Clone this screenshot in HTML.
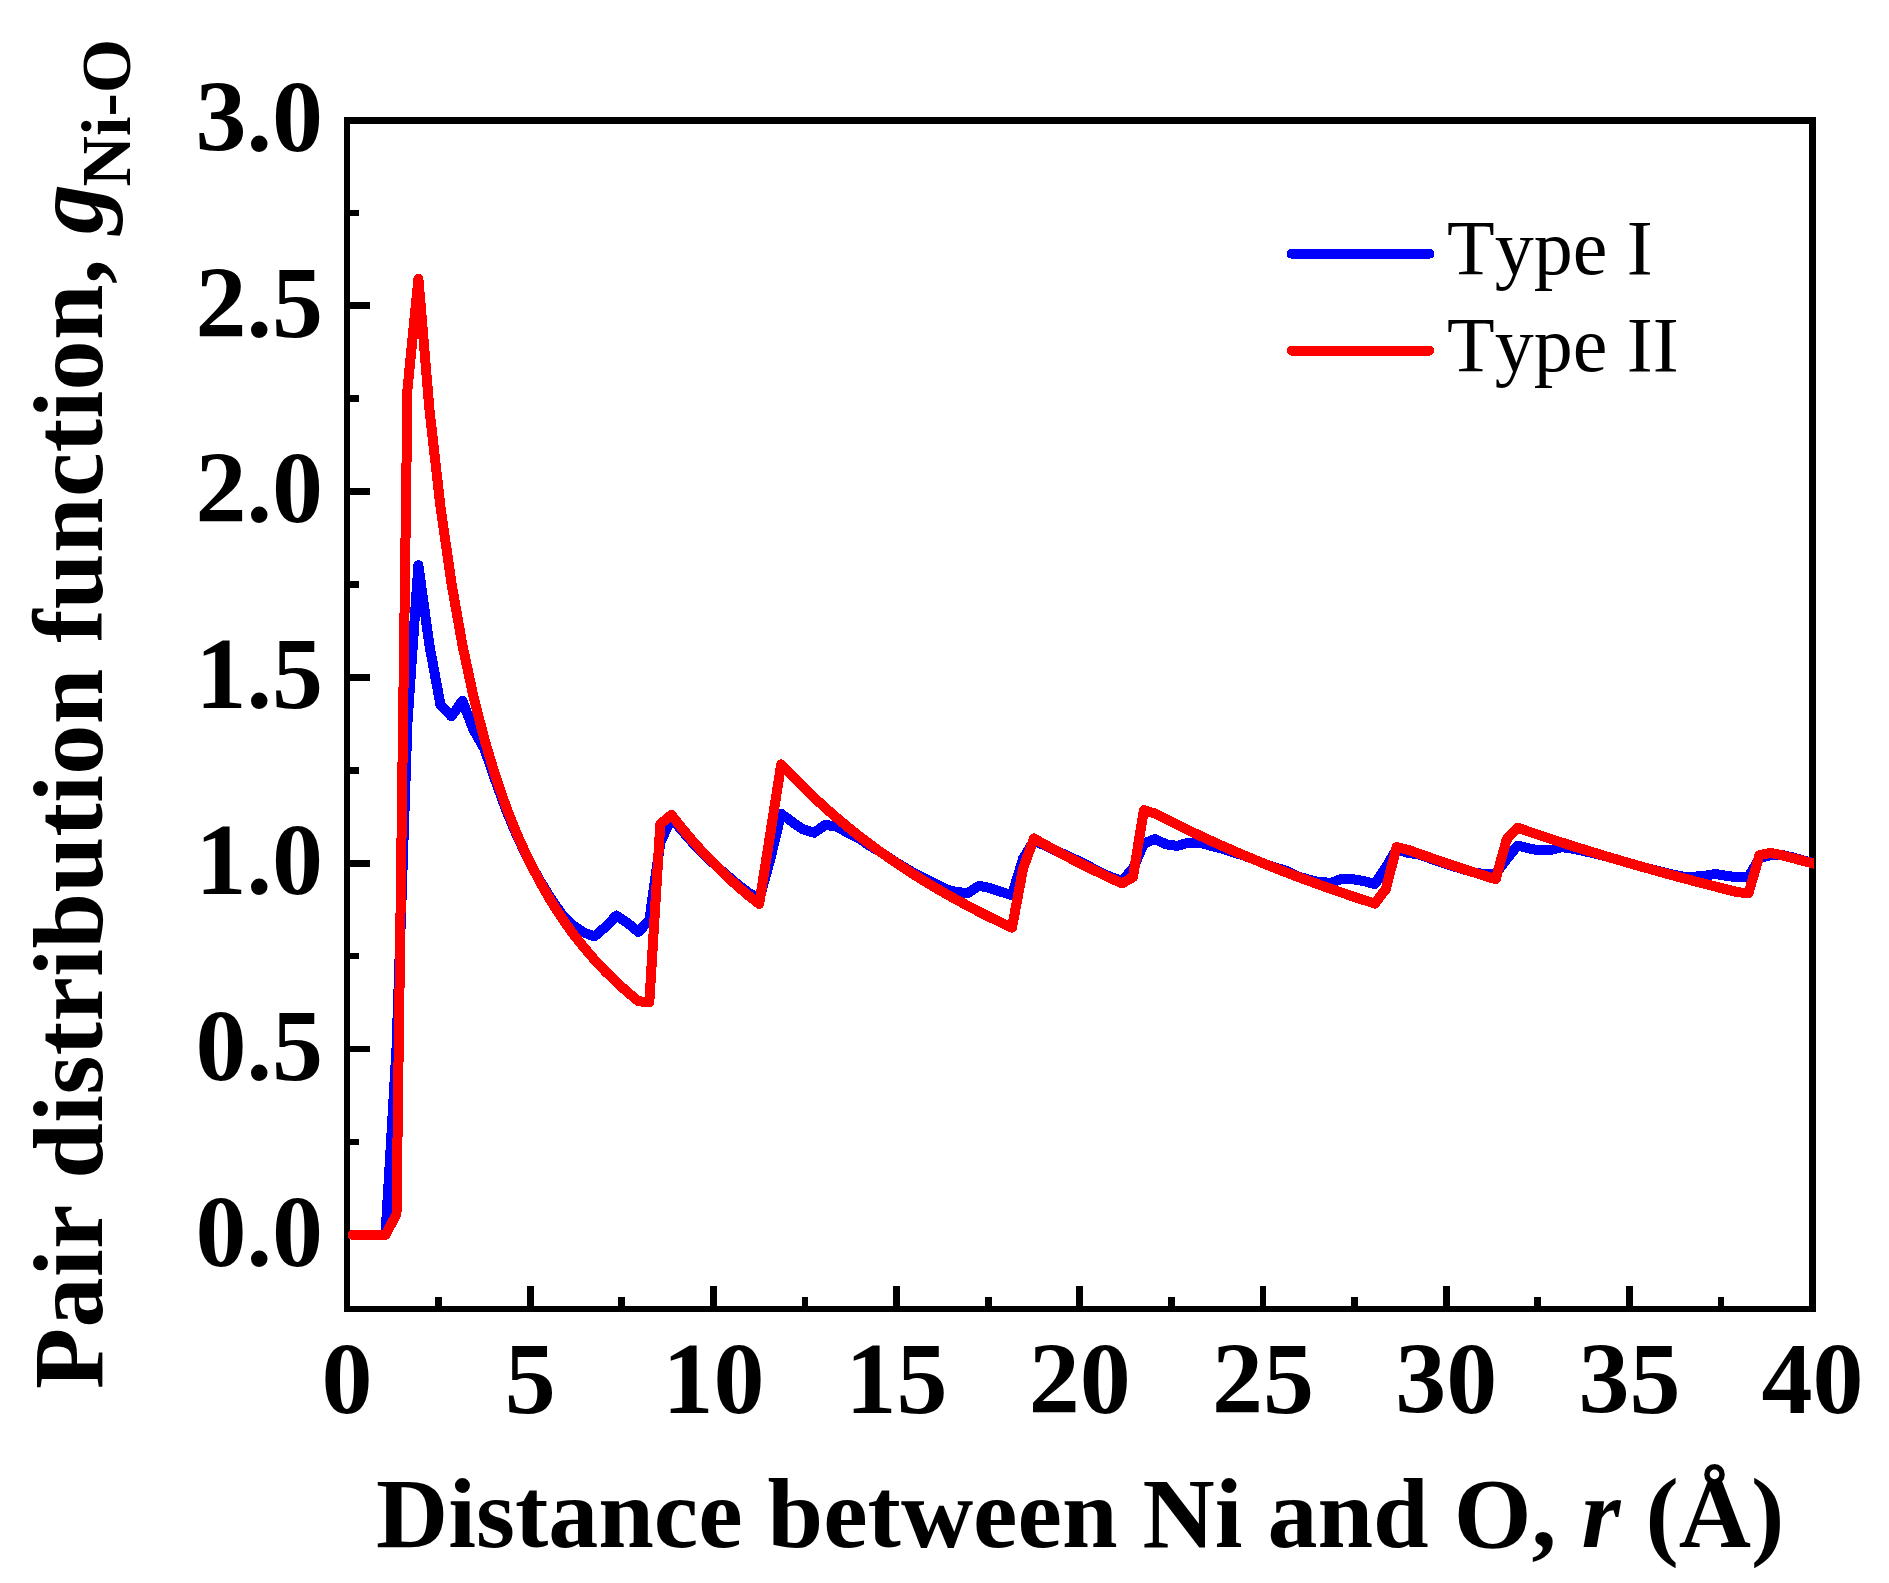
<!DOCTYPE html>
<html lang="en"><head><meta charset="utf-8"><title>Pair distribution function</title>
<style>
html,body{margin:0;padding:0;background:#fff;}
body{width:1889px;height:1583px;overflow:hidden;position:relative;font-family:"Liberation Serif","Times New Roman",serif;}
svg{position:absolute;left:0;top:0;display:block}
text{font-family:"Liberation Serif","Times New Roman",serif;fill:#000;font-kerning:none;font-variant-ligatures:none}
.tick{font-weight:bold;font-size:102px}
.title{font-weight:bold;font-size:100px}
.leg{font-size:78px}
</style></head><body>
<svg width="1889" height="1583" viewBox="0 0 1889 1583">
<rect x="0" y="0" width="1889" height="1583" fill="#fff"/>
<g fill="#000" shape-rendering="crispEdges">
<rect x="435" y="1297" width="7" height="9"/>
<rect x="527" y="1286" width="7" height="20"/>
<rect x="618" y="1297" width="7" height="9"/>
<rect x="710" y="1286" width="7" height="20"/>
<rect x="802" y="1297" width="6" height="9"/>
<rect x="893" y="1286" width="7" height="20"/>
<rect x="985" y="1297" width="7" height="9"/>
<rect x="1076" y="1286" width="7" height="20"/>
<rect x="1168" y="1297" width="7" height="9"/>
<rect x="1260" y="1286" width="6" height="20"/>
<rect x="1351" y="1297" width="7" height="9"/>
<rect x="1443" y="1286" width="7" height="20"/>
<rect x="1534" y="1297" width="7" height="9"/>
<rect x="1626" y="1286" width="7" height="20"/>
<rect x="1718" y="1297" width="6" height="9"/>
<rect x="350" y="1231" width="20" height="7"/>
<rect x="350" y="1139" width="9" height="6"/>
<rect x="350" y="1046" width="20" height="6"/>
<rect x="350" y="953" width="9" height="6"/>
<rect x="350" y="860" width="20" height="7"/>
<rect x="350" y="767" width="9" height="7"/>
<rect x="350" y="674" width="20" height="7"/>
<rect x="350" y="581" width="9" height="7"/>
<rect x="350" y="488" width="20" height="7"/>
<rect x="350" y="395" width="9" height="7"/>
<rect x="350" y="302" width="20" height="7"/>
<rect x="350" y="210" width="9" height="6"/>
<rect x="344" y="117" width="1472" height="7"/>
<rect x="344" y="1306" width="1472" height="6"/>
<rect x="344" y="117" width="6" height="1195"/>
<rect x="1809" y="117" width="7" height="1195"/>
</g>
<clipPath id="c"><rect x="346" y="120" width="1468" height="1189"/></clipPath>
<g fill="none" stroke-width="10" stroke-linejoin="round" stroke-linecap="round" clip-path="url(#c)" shape-rendering="crispEdges">
<path stroke="#0000ff" d="M352.5,1234.8 L363.5,1234.8 L374.5,1234.8 L385.5,1234.8 L396.5,1049.0 L407.5,722.0 L418.4,565.2 L429.4,645.1 L440.4,704.5 L451.4,716.4 L462.4,700.8 L473.4,729.8 L484.4,748.7 L495.4,780.5 L506.4,810.7 L517.4,836.7 L528.4,859.9 L539.4,879.8 L550.4,897.8 L561.3,913.5 L572.3,924.9 L583.3,932.3 L594.3,936.4 L605.3,927.1 L616.3,915.6 L627.3,922.7 L638.3,931.9 L649.3,920.4 L660.3,842.8 L671.3,817.9 L682.3,830.9 L693.2,843.4 L704.2,854.8 L715.2,865.0 L726.2,874.7 L737.2,884.0 L748.2,892.5 L759.2,899.2 L770.2,859.5 L781.2,813.8 L792.2,822.0 L803.2,829.4 L814.2,832.7 L825.2,824.9 L836.1,826.4 L847.1,832.4 L858.1,837.7 L869.1,845.4 L880.1,851.7 L891.1,859.1 L902.1,866.1 L913.1,872.5 L924.1,878.3 L935.1,883.4 L946.1,889.4 L957.1,892.2 L968.0,892.9 L979.0,885.9 L990.0,888.1 L1001.0,891.8 L1012.0,895.2 L1023.0,858.7 L1034.0,840.9 L1045.0,845.4 L1056.0,850.7 L1067.0,855.5 L1078.0,860.8 L1089.0,866.3 L1100.0,872.0 L1110.9,877.2 L1121.9,880.7 L1132.9,868.8 L1143.9,843.5 L1154.9,839.0 L1165.9,844.2 L1176.9,845.9 L1187.9,842.9 L1198.9,842.5 L1209.9,845.5 L1220.9,848.3 L1231.9,851.9 L1242.8,855.2 L1253.8,859.4 L1264.8,863.9 L1275.8,867.6 L1286.8,871.1 L1297.8,876.3 L1308.8,879.7 L1319.8,882.2 L1330.8,882.7 L1341.8,879.0 L1352.8,879.2 L1363.8,881.0 L1374.8,884.1 L1385.7,867.7 L1396.7,849.1 L1407.7,852.8 L1418.7,854.4 L1429.7,858.3 L1440.7,862.1 L1451.7,865.8 L1462.7,869.1 L1473.7,872.3 L1484.7,874.3 L1495.7,873.6 L1506.7,859.1 L1517.6,845.6 L1528.6,848.3 L1539.6,850.5 L1550.6,850.1 L1561.6,847.2 L1572.6,848.7 L1583.6,850.9 L1594.6,853.6 L1605.6,856.2 L1616.6,859.4 L1627.6,862.7 L1638.6,865.8 L1649.6,868.9 L1660.5,871.6 L1671.5,874.3 L1682.5,876.5 L1693.5,876.7 L1704.5,875.8 L1715.5,873.9 L1726.5,875.9 L1737.5,877.2 L1748.5,876.9 L1759.5,858.4 L1770.5,855.0 L1781.5,854.8 L1792.4,857.3 L1803.4,860.5 L1814.4,863.3"/>
<path stroke="#ff0000" d="M352.5,1234.8 L363.5,1234.8 L374.5,1234.8 L385.5,1234.8 L396.5,1214.0 L407.5,389.0 L418.4,278.7 L429.4,409.0 L440.4,506.2 L451.4,582.9 L462.4,645.0 L473.4,696.2 L484.4,739.3 L495.4,776.0 L506.4,807.7 L517.4,835.2 L528.4,859.4 L539.4,880.9 L550.4,900.0 L561.3,917.2 L572.3,932.7 L583.3,946.7 L594.3,959.5 L605.3,971.3 L616.3,982.0 L627.3,991.9 L638.3,1001.1 L649.3,1002.5 L660.3,824.2 L671.3,814.9 L682.3,828.7 L693.2,841.6 L704.2,853.7 L715.2,865.0 L726.2,875.8 L737.2,885.9 L748.2,895.4 L759.2,903.9 L770.2,834.2 L781.2,764.4 L792.2,776.0 L803.2,787.1 L814.2,797.6 L825.2,807.7 L836.1,817.3 L847.1,826.4 L858.1,835.2 L869.1,843.6 L880.1,851.7 L891.1,859.4 L902.1,866.9 L913.1,874.0 L924.1,880.9 L935.1,887.5 L946.1,893.9 L957.1,900.0 L968.0,906.0 L979.0,911.7 L990.0,917.2 L1001.0,922.5 L1012.0,927.7 L1023.0,868.8 L1034.0,838.4 L1045.0,844.7 L1056.0,850.7 L1067.0,856.6 L1078.0,862.3 L1089.0,867.8 L1100.0,873.1 L1110.9,878.3 L1121.9,883.4 L1132.9,877.2 L1143.9,810.1 L1154.9,813.5 L1165.9,819.1 L1176.9,824.6 L1187.9,830.0 L1198.9,835.2 L1209.9,840.3 L1220.9,845.3 L1231.9,850.1 L1242.8,854.8 L1253.8,859.4 L1264.8,863.9 L1275.8,868.3 L1286.8,872.6 L1297.8,876.8 L1308.8,880.9 L1319.8,884.9 L1330.8,888.8 L1341.8,892.6 L1352.8,896.4 L1363.8,900.0 L1374.8,903.6 L1385.7,889.3 L1396.7,847.0 L1407.7,849.7 L1418.7,853.7 L1429.7,857.5 L1440.7,861.3 L1451.7,865.0 L1462.7,868.7 L1473.7,872.3 L1484.7,875.8 L1495.7,879.2 L1506.7,839.4 L1517.6,827.7 L1528.6,831.5 L1539.6,835.2 L1550.6,838.9 L1561.6,842.5 L1572.6,846.0 L1583.6,849.4 L1594.6,852.8 L1605.6,856.2 L1616.6,859.4 L1627.6,862.7 L1638.6,865.8 L1649.6,868.9 L1660.5,872.0 L1671.5,875.0 L1682.5,878.0 L1693.5,880.9 L1704.5,883.8 L1715.5,886.6 L1726.5,889.4 L1737.5,892.1 L1748.5,893.3 L1759.5,855.0 L1770.5,852.9 L1781.5,855.1 L1792.4,858.0 L1803.4,860.9 L1814.4,863.7"/>
</g>
<g fill="none" stroke-width="10" stroke-linecap="round" shape-rendering="crispEdges">
<path stroke="#0000ff" d="M1291.5,253.7 H1429.5"/>
<path stroke="#ff0000" d="M1291.5,350.6 H1429.5"/>
</g>
<text class="leg" x="1447" y="274">Type I</text>
<text class="leg" x="1447" y="370.5">Type II</text>
<text class="tick" text-anchor="end" x="323" y="1265.6">0.0</text>
<text class="tick" text-anchor="end" x="323" y="1079.8">0.5</text>
<text class="tick" text-anchor="end" x="323" y="894.0">1.0</text>
<text class="tick" text-anchor="end" x="323" y="708.2">1.5</text>
<text class="tick" text-anchor="end" x="323" y="522.4">2.0</text>
<text class="tick" text-anchor="end" x="323" y="336.6">2.5</text>
<text class="tick" text-anchor="end" x="323" y="150.8">3.0</text>
<text class="tick" text-anchor="middle" x="347.0" y="1413">0</text>
<text class="tick" text-anchor="middle" x="530.2" y="1413">5</text>
<text class="tick" text-anchor="middle" x="713.4" y="1413">10</text>
<text class="tick" text-anchor="middle" x="896.6" y="1413">15</text>
<text class="tick" text-anchor="middle" x="1079.8" y="1413">20</text>
<text class="tick" text-anchor="middle" x="1263.0" y="1413">25</text>
<text class="tick" text-anchor="middle" x="1446.2" y="1413">30</text>
<text class="tick" text-anchor="middle" x="1629.4" y="1413">35</text>
<text class="tick" text-anchor="middle" x="1812.6" y="1413">40</text>
<text class="title" x="376" y="1547" xml:space="preserve">Distance between Ni and O, <tspan font-style="italic">r</tspan> (Å)</text>
<g transform="translate(101.5,0) rotate(-90)">
<text class="title" x="-1389" y="0" letter-spacing="0.4" xml:space="preserve">Pair distribution function,</text>
<text class="title" x="-234" y="0" font-style="italic">g</text>
<text class="title" x="-186.5" y="28" style="font-size:70px">Ni-O</text>
</g>
</svg></body></html>
